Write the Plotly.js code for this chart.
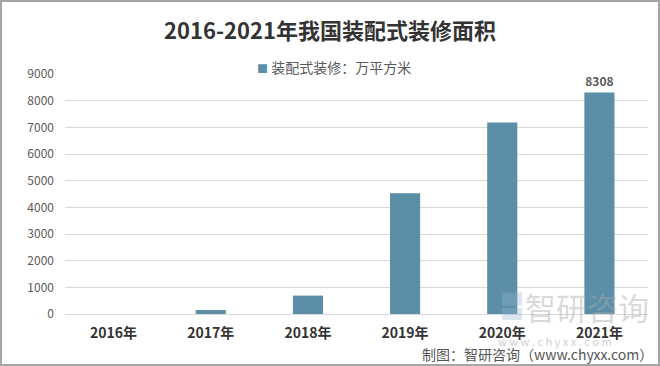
<!DOCTYPE html>
<html>
<head>
<meta charset="utf-8">
<script src="https://cdn.plot.ly/plotly-3.0.1.min.js"></script>
<style>
html,body{margin:0;padding:0;background:#fff;}
#wrap{position:relative;width:660px;height:366px;}
#chart{position:absolute;left:0;top:0;width:660px;height:366px;}
#frame{position:absolute;left:0;top:0;width:660px;height:366px;box-sizing:border-box;border:2px solid #a6a6a6;pointer-events:none;}
</style>
</head>
<body>
<div id="wrap"><div id="chart"></div><div id="frame"></div></div>
<script>
const categories = ["2016年","2017年","2018年","2019年","2020年","2021年"];
const areaValues = [0, 150, 690, 4530, 7180, 8308];
const dataLabels = ["", "", "", "", "", "8308"];
const yTickValues = [0,1000,2000,3000,4000,5000,6000,7000,8000,9000];
const seriesName = "装配式装修：万平方米";
const chartTitle = "2016-2021年我国装配式装修面积";

const FONT = '"Noto Sans CJK SC", "Noto Sans", sans-serif';
const BAR = '#5b8fa8';

const trace = {
  type: 'bar',
  x: categories,
  y: areaValues,
  name: seriesName,
  marker: {color: BAR},
  text: dataLabels,
  textposition: 'outside',
  cliponaxis: false,
  textfont: {family: FONT, size: 12, color: '#595959', weight: 'bold'},
  hoverinfo: 'none',
  showlegend: false
};

const layout = {
  width: 660, height: 366,
  margin: {l: 65, r: 12, t: 74, b: 52},
  paper_bgcolor: '#ffffff',
  plot_bgcolor: '#ffffff',
  bargap: 0.69,
  showlegend: false,
  title: {text: chartTitle, x: 0.5, xanchor: 'center', y: 0.915, yanchor: 'middle',
          font: {family: FONT, size: 22, color: '#333333', weight: 'bold'}},
  xaxis: {type: 'category', showgrid: false, showline: false, zeroline: false, ticks: '',
          tickfont: {family: FONT, size: 14, color: '#333333', weight: 'bold'}, ticklabelstandoff: 9},
  yaxis: {range: [0, 9000], tickvals: yTickValues, ticktext: yTickValues.map(String),
          showgrid: true, gridcolor: '#d9d9d9', gridwidth: 1, zeroline: true, zerolinecolor: '#d9d9d9',
          showline: false, ticks: '', ticklabelstandoff: 10,
          tickfont: {family: FONT, size: 12, color: '#595959'}},
  annotations: [
    {xref: 'paper', yref: 'paper', x: 0.462, y: 1.03, xanchor: 'center', yanchor: 'middle',
     text: '<span style="color:' + BAR + ';font-size:11px">■</span> ' + seriesName, showarrow: false,
     font: {family: FONT, size: 14, color: '#595959'}},
    {xref: 'paper', yref: 'paper', x: 0.785, y: 0.03, xanchor: 'left', yanchor: 'middle',
     text: '智研咨询', showarrow: false,
     font: {family: FONT, size: 31, color: 'rgba(170,170,170,0.45)'}},
    {xref: 'paper', yref: 'paper', x: 0.84, y: -0.113, xanchor: 'center', yanchor: 'middle',
     text: 'w w w . c h y x x . c o m', showarrow: false,
     font: {family: FONT, size: 11, color: 'rgba(170,170,170,0.6)'}},
    {xref: 'paper', yref: 'paper', x: 1.012, y: -0.167, xanchor: 'right', yanchor: 'middle',
     text: '制图：智研咨询（www.chyxx.com）', showarrow: false,
     font: {family: FONT, size: 14, color: '#555555'}}
  ],
  shapes: [
    {type: 'rect', xref: 'paper', yref: 'paper', x0: 0.75, x1: 0.784, y0: 0.035, y1: 0.09,
     fillcolor: 'rgba(150,180,210,0.35)', line: {width: 0}},
    {type: 'rect', xref: 'paper', yref: 'paper', x0: 0.75, x1: 0.784, y0: -0.025, y1: 0.025,
     fillcolor: 'rgba(150,180,210,0.35)', line: {width: 0}}
  ]
};

Plotly.newPlot('chart', [trace], layout, {displayModeBar: false, staticPlot: true});
</script>
</body>
</html>
